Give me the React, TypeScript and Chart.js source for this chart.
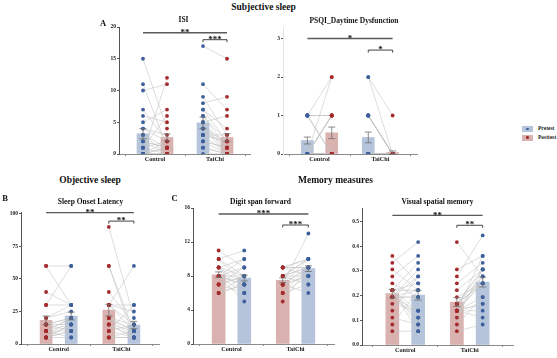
import React, { useEffect, useRef } from 'react';
import { Chart, registerables } from 'chart.js';
Chart.register(...registerables);

const FONT = '"Liberation Serif", "Times New Roman", Times, serif';
const GROUPS = ['Control', 'TaiChi'];

const BLUE_BAR = '#b5c4da';
const RED_BAR = '#d9b1af';
const BLUE_DOT = '#3d609c';
const RED_DOT = '#a52a2c';
const PAIR_LINE = '#c6c6c6';

// ---------- ISI (Pretest blue, Posttest red) ----------
const isiCtrlPre = [15, 11, 10, 7, 6, 5, 4, 4, 3, 3, 2, 2, 2, 1, 1, 1, 0, 0, 0, 0, 0, 0, 0, 0];
const isiCtrlPost = [4, 1, 11, 2, 5, 7, 3, 2, 1, 0, 1, 0, 1, 2, 6, 0, 12, 1, 0, 0, 2, 0, 1, 0];
const isiTcPre = [17, 11, 9, 8, 7, 7, 6, 6, 5, 5, 5, 4, 4, 4, 3, 3, 3, 2, 2, 2, 1, 1, 3, 0];
const isiTcPost = [15, 7, 3, 9, 2, 4, 1, 2, 6, 1, 0, 2, 0, 1, 3, 0, 2, 1, 0, 1, 0, 0, 2, 0];
const isiMeans = [3.2, 2.6, 4.9, 2.6];
const isiSems = [0.8, 0.55, 0.9, 0.6];
const isiSig = [
  { x1: 0.8, x2: 2.2, y: 19.1, label: '**', bracket: false },
  { x1: 1.8, x2: 2.2, y: 18.0, label: '***', bracket: true },
];

// ---------- PSQI Daytime Dysfunction ----------
const psqiCtrlPre = [1, 1, 1, 1, 1, 1, 1, 0, 0, 0, 0, 0, 0, 0, 0, 0, 0, 0, 0, 0];
const psqiCtrlPost = [2, 1, 1, 1, 0, 0, 0, 2, 1, 1, 1, 1, 0, 0, 0, 0, 0, 0, 0, 0];
const psqiTcPre = [2, 2, 1, 1, 1, 1, 1, 1, 0, 0, 0, 0, 0, 0, 0, 0, 0, 0, 0, 0, 0, 0, 0];
const psqiTcPost = [1, 0, 0, 0, 0, 0, 0, 0, 0, 0, 0, 0, 0, 0, 0, 0, 0, 0, 0, 0, 0, 0, 0];
const psqiMeans = [0.35, 0.55, 0.43, 0.04];
const psqiSems = [0.09, 0.15, 0.14, 0.04];
const psqiSig = [
  { x1: 0.8, x2: 2.2, y: 3.0, label: '*', bracket: false },
  { x1: 1.8, x2: 2.2, y: 2.7, label: '*', bracket: true },
];

// ---------- Sleep Onset Latency (Pretest red, Posttest blue) ----------
const solCtrlPre = [60, 60, 40, 30, 30, 20, 20, 15, 15, 15, 10, 10, 10, 5, 5, 5, 5, 5, 5, 10, 10, 15];
const solCtrlPost = [60, 30, 30, 60, 30, 25, 30, 20, 15, 10, 20, 15, 5, 10, 10, 20, 15, 5, 15, 10, 20, 20];
const solTcPre = [90, 60, 60, 40, 30, 30, 30, 20, 20, 20, 15, 15, 15, 10, 10, 10, 5, 5, 5, 30, 20, 30];
const solTcPost = [20, 5, 10, 15, 25, 10, 60, 15, 10, 5, 5, 10, 5, 30, 15, 5, 10, 5, 5, 30, 10, 15];
const solMeans = [18.2, 21.5, 26.0, 14.6];
const solSems = [3.3, 3.0, 4.5, 2.8];
const solSig = [
  { x1: 0.8, x2: 2.2, y: 101, label: '**', bracket: false },
  { x1: 1.8, x2: 2.2, y: 94.5, label: '**', bracket: true },
];

// ---------- Digit span forward (Pretest red, Posttest blue) ----------
const dsCtrlPre = [11, 10, 10, 9, 9, 9, 8, 8, 8, 8, 8, 8, 7, 7, 7, 7, 6, 6, 9, 10, 8, 6];
const dsCtrlPost = [9, 11, 8, 10, 7, 6, 9, 7, 8, 10, 5, 7, 8, 9, 6, 8, 7, 8, 8, 7, 6, 7];
const dsTcPre = [9, 9, 9, 8, 8, 8, 8, 8, 7, 7, 7, 7, 7, 7, 7, 6, 6, 6, 5, 8, 9, 9];
const dsTcPost = [10, 9, 8, 9, 10, 8, 9, 7, 13, 9, 8, 10, 9, 6, 8, 9, 8, 7, 9, 10, 9, 10];
const dsMeans = [8.15, 7.76, 7.5, 8.86];
const dsSems = [0.33, 0.35, 0.27, 0.33];
const dsSig = [
  { x1: 0.8, x2: 2.2, y: 15.3, label: '***', bracket: false },
  { x1: 1.8, x2: 2.2, y: 14.0, label: '***', bracket: true },
];

// ---------- Visual spatial memory (Pretest red, Posttest blue) ----------
const vsCtrlPre = [0.361, 0.333, 0.306, 0.278, 0.25, 0.222, 0.194, 0.167, 0.139, 0.111, 0.083, 0.056,
  0.194, 0.194, 0.222, 0.222, 0.194, 0.194, 0.222, 0.222, 0.194, 0.222, 0.194, 0.222];
const vsCtrlPost = [0.25, 0.417, 0.222, 0.361, 0.194, 0.111, 0.306, 0.139, 0.278, 0.083, 0.222, 0.056,
  0.139, 0.194, 0.056, 0.25, 0.222, 0.111, 0.222, 0.083, 0.194, 0.139, 0.278, 0.333];
const vsTcPre = [0.417, 0.306, 0.278, 0.25, 0.222, 0.194, 0.167, 0.139, 0.111, 0.083, 0.056,
  0.167, 0.139, 0.167, 0.139, 0.139, 0.167, 0.139, 0.139, 0.167, 0.139, 0.167, 0.139, 0.139];
const vsTcPost = [0.278, 0.361, 0.444, 0.333, 0.306, 0.25, 0.25, 0.361, 0.306, 0.194, 0.083,
  0.278, 0.25, 0.306, 0.167, 0.25, 0.25, 0.139, 0.278, 0.25, 0.111, 0.306, 0.194, 0.167];
const vsMeans = [0.208, 0.202, 0.174, 0.255];
const vsSems = [0.017, 0.02, 0.018, 0.02];
const vsSig = [
  { x1: 0.8, x2: 2.2, y: 0.525, label: '**', bracket: false },
  { x1: 1.8, x2: 2.2, y: 0.485, label: '**', bracket: true },
];

type Sig = { x1: number; x2: number; y: number; label: string; bracket: boolean };
type PanelDef = {
  box: [number, number, number, number];
  xRange: [number, number];
  yMax: number;
  yStep: number;
  yDecimals: number;
  barW: number;
  preBlue: boolean;
  yBorder: string;
  ctrlPre: number[]; ctrlPost: number[]; tcPre: number[]; tcPost: number[];
  means: number[]; sems: number[];
  sig: Sig[];
};

const YW = 22, PL = 2, PT = 10, PR = 4, XH = 14, PB = 2;

const panels: PanelDef[] = [
  { box: [119, 27, 250, 154], xRange: [0.4, 2.583], yMax: 20, yStep: 5, yDecimals: 0, barW: 12, preBlue: true, yBorder: '#555',
    ctrlPre: isiCtrlPre, ctrlPost: isiCtrlPost, tcPre: isiTcPre, tcPost: isiTcPost, means: isiMeans, sems: isiSems, sig: isiSig },
  { box: [283, 27, 417, 154], xRange: [0.4, 2.6], yMax: 3.3, yStep: 1, yDecimals: 0, barW: 12, preBlue: true, yBorder: '#e4e4e4',
    ctrlPre: psqiCtrlPre, ctrlPost: psqiCtrlPost, tcPre: psqiTcPre, tcPost: psqiTcPost, means: psqiMeans, sems: psqiSems, sig: psqiSig },
  { box: [21, 212, 159, 344], xRange: [0.4, 2.6], yMax: 101.5, yStep: 25, yDecimals: 0, barW: 12, preBlue: false, yBorder: '#555',
    ctrlPre: solCtrlPre, ctrlPost: solCtrlPost, tcPre: solTcPre, tcPost: solTcPost, means: solMeans, sems: solSems, sig: solSig },
  { box: [193, 208, 334, 344], xRange: [0.4, 2.6], yMax: 16, yStep: 4, yDecimals: 0, barW: 13, preBlue: false, yBorder: '#555',
    ctrlPre: dsCtrlPre, ctrlPost: dsCtrlPost, tcPre: dsTcPre, tcPost: dsTcPost, means: dsMeans, sems: dsSems, sig: dsSig },
  { box: [362, 208, 513, 345], xRange: [0.33, 2.67], yMax: 0.555, yStep: 0.1, yDecimals: 1, barW: 13, preBlue: false, yBorder: '#555',
    ctrlPre: vsCtrlPre, ctrlPost: vsCtrlPost, tcPre: vsTcPre, tcPost: vsTcPost, means: vsMeans, sems: vsSems, sig: vsSig },
];

function buildConfig(p: PanelDef): any {
  const preBar = p.preBlue ? BLUE_BAR : RED_BAR;
  const postBar = p.preBlue ? RED_BAR : BLUE_BAR;
  const preDot = p.preBlue ? BLUE_DOT : RED_DOT;
  const postDot = p.preBlue ? RED_DOT : BLUE_DOT;
  const lineData: any[] = [];
  const addPairs = (pre: number[], post: number[], gx: number) => {
    pre.forEach((v, i) => {
      lineData.push({ x: gx - 0.2, y: v }, { x: gx + 0.2, y: post[i] }, { x: gx, y: null });
    });
  };
  addPairs(p.ctrlPre, p.ctrlPost, 1);
  addPairs(p.tcPre, p.tcPost, 2);
  const pts = (arr: number[], x: number) => arr.map((v) => ({ x, y: v }));

  const errPlugin = {
    id: 'errBars',
    afterDatasetsDraw(chart: any) {
      const ctx = chart.ctx;
      const ys = chart.scales.y;
      ctx.save();
      ctx.strokeStyle = '#6e6e6e';
      ctx.lineWidth = 0.8;
      chart.data.datasets.forEach((ds: any, di: number) => {
        if (!ds.sem) return;
        const meta = chart.getDatasetMeta(di);
        meta.data.forEach((el: any, i: number) => {
          const m = ds.data[i].y;
          const s = ds.sem[i];
          const yTop = ys.getPixelForValue(m + s);
          const yBot = ys.getPixelForValue(Math.max(0, m - s));
          const x = el.x;
          ctx.beginPath();
          ctx.moveTo(x, yTop); ctx.lineTo(x, yBot);
          ctx.moveTo(x - 3.5, yTop); ctx.lineTo(x + 3.5, yTop);
          ctx.moveTo(x - 3.5, yBot); ctx.lineTo(x + 3.5, yBot);
          ctx.stroke();
        });
      });
      ctx.restore();
    },
  };

  const sigPlugin = {
    id: 'sigMarks',
    afterDatasetsDraw(chart: any) {
      const ctx = chart.ctx;
      const xs = chart.scales.x, ys = chart.scales.y;
      ctx.save();
      p.sig.forEach((s) => {
        const x1 = xs.getPixelForValue(s.x1);
        const x2 = xs.getPixelForValue(s.x2);
        const y = ys.getPixelForValue(s.y);
        ctx.beginPath();
        if (s.bracket) {
          ctx.strokeStyle = '#444';
          ctx.lineWidth = 1;
          ctx.moveTo(x1, y + 2.5); ctx.lineTo(x1, y); ctx.lineTo(x2, y); ctx.lineTo(x2, y + 2.5);
        } else {
          ctx.strokeStyle = '#5a5a5a';
          ctx.lineWidth = 1.4;
          ctx.moveTo(x1, y); ctx.lineTo(x2, y);
        }
        ctx.stroke();
        ctx.fillStyle = '#111';
        ctx.font = `bold 9px ${FONT}`;
        ctx.textAlign = 'center';
        ctx.textBaseline = 'alphabetic';
        ctx.fillText(s.label, (x1 + x2) / 2, y + 2.2);
      });
      ctx.restore();
    },
  };

  return {
    type: 'scatter',
    data: {
      datasets: [
        { type: 'bar', data: [{ x: 0.8, y: p.means[0] }, { x: 1.8, y: p.means[2] }], sem: [p.sems[0], p.sems[2]],
          backgroundColor: preBar, barThickness: p.barW, grouped: false, order: 5 },
        { type: 'bar', data: [{ x: 1.2, y: p.means[1] }, { x: 2.2, y: p.means[3] }], sem: [p.sems[1], p.sems[3]],
          backgroundColor: postBar, barThickness: p.barW, grouped: false, order: 5 },
        { type: 'line', data: lineData, borderColor: PAIR_LINE, borderWidth: 0.6, pointRadius: 0, spanGaps: false, order: 3 },
        { type: 'scatter', data: [...pts(p.ctrlPre, 0.8), ...pts(p.tcPre, 1.8)], pointRadius: 1.9,
          backgroundColor: preDot, borderWidth: 0, order: 1 },
        { type: 'scatter', data: [...pts(p.ctrlPost, 1.2), ...pts(p.tcPost, 2.2)], pointRadius: 1.9,
          backgroundColor: postDot, borderWidth: 0, order: 1 },
      ],
    },
    options: {
      responsive: false,
      animation: false,
      devicePixelRatio: 1,
      layout: { padding: { top: PT, left: PL, right: PR, bottom: PB } },
      plugins: { legend: { display: false }, tooltip: { enabled: false }, title: { display: false } },
      scales: {
        x: {
          type: 'linear', min: p.xRange[0], max: p.xRange[1], offset: false,
          afterBuildTicks: (s: any) => { s.ticks = [{ value: 1 }, { value: 2 }]; },
          afterFit: (s: any) => { s.height = XH; },
          ticks: { callback: (v: any) => (v === 1 ? GROUPS[0] : v === 2 ? GROUPS[1] : ''), font: { family: FONT, size: 6.2, weight: 'bold' },
            color: '#1a1a1a', padding: 0, maxRotation: 0, autoSkip: false },
          grid: { drawOnChartArea: false, tickLength: 2, color: '#8a8a8a' },
          border: { color: '#8a8a8a', width: 1 },
        },
        y: {
          type: 'linear', min: 0, max: p.yMax,
          afterFit: (s: any) => { s.width = YW; },
          ticks: { stepSize: p.yStep, includeBounds: false, callback: (v: any) => Number(v).toFixed(p.yDecimals),
            font: { family: FONT, size: 5.5, weight: 'bold' }, color: '#1a1a1a', padding: 1 },
          grid: { drawOnChartArea: false, tickLength: 2, color: '#555' },
          border: { color: p.yBorder, width: 1 },
        },
      },
    },
    plugins: [errPlugin, sigPlugin],
  };
}

function Panel({ p }: { p: PanelDef }) {
  const ref = useRef<HTMLCanvasElement | null>(null);
  const [L, T, R, B] = p.box;
  const left = L - YW - PL;
  const top = T - PT;
  const width = R - L + YW + PL + PR;
  const height = B - T + PT + XH + PB;
  useEffect(() => {
    if (!ref.current) return;
    const chart = new Chart(ref.current, buildConfig(p));
    return () => chart.destroy();
  }, []);
  return (
    <canvas ref={ref} width={width} height={height}
      style={{ position: 'absolute', left, top, width, height }} />
  );
}

const texts = [
  { t: 'Subjective sleep', x: 263.5, y: 8, s: 9.5 },
  { t: 'A', x: 103, y: 23, s: 8.5 },
  { t: 'ISI', x: 183.5, y: 20, s: 7.5 },
  { t: 'PSQI_Daytime Dysfunction', x: 354, y: 21, s: 7.5 },
  { t: 'Objective sleep', x: 90, y: 181, s: 9.5 },
  { t: 'B', x: 5, y: 198, s: 8.5 },
  { t: 'Sleep Onset Latency', x: 90.5, y: 202, s: 7.5 },
  { t: 'C', x: 174.5, y: 198, s: 8.5 },
  { t: 'Memory measures', x: 335.5, y: 181, s: 9.5 },
  { t: 'Digit span forward', x: 260.5, y: 202, s: 7.5 },
  { t: 'Visual spatial memory', x: 437.5, y: 202, s: 7.5 },
];

const legendItems = [
  { label: 'Pretest', box: BLUE_BAR, dot: BLUE_DOT },
  { label: 'Posttest', box: RED_BAR, dot: RED_DOT },
];

export default function App() {
  return (
    <div style={{ position: 'fixed', left: 0, top: 0, width: 557, height: 358, background: '#fff', overflow: 'hidden' }}>
      {panels.map((p, i) => <Panel key={i} p={p} />)}
      {texts.map((d, i) => (
        <span key={i} style={{ position: 'absolute', left: d.x, top: d.y, transform: 'translate(-50%, -50%)',
          fontFamily: FONT, fontWeight: 'bold', fontSize: d.s, lineHeight: 1, whiteSpace: 'nowrap', color: '#111' }}>{d.t}</span>
      ))}
      {legendItems.map((it, i) => (
        <React.Fragment key={i}>
          <div style={{ position: 'absolute', left: 522, top: 126 + i * 8.6, width: 11, height: 6, background: it.box }}>
            <div style={{ position: 'absolute', left: 4.3, top: 1.8, width: 2.4, height: 2.4, borderRadius: '50%', background: it.dot }} />
          </div>
          <span style={{ position: 'absolute', left: 538, top: 129 + i * 8.6, transform: 'translateY(-50%)',
            fontFamily: FONT, fontWeight: 'bold', fontSize: 5.5, lineHeight: 1, whiteSpace: 'nowrap', color: '#222' }}>{it.label}</span>
        </React.Fragment>
      ))}
    </div>
  );
}
